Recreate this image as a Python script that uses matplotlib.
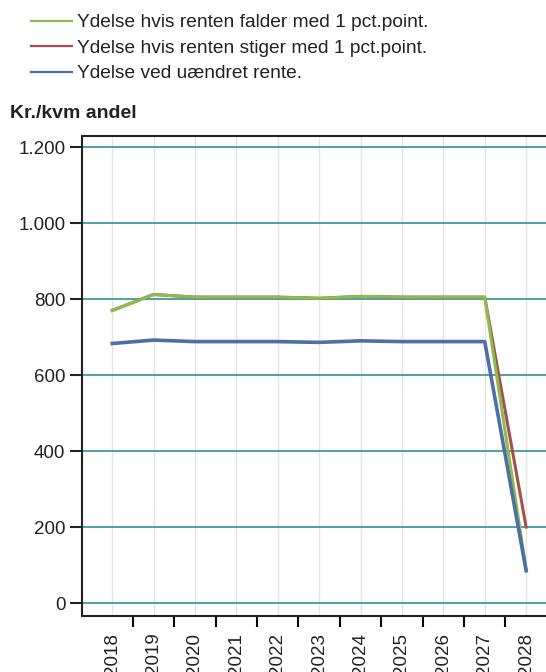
import matplotlib.pyplot as plt
from matplotlib.ticker import FuncFormatter, FixedLocator

plt.rcParams['font.family'] = ['Liberation Sans', 'DejaVu Sans']

years = [2018, 2019, 2020, 2021, 2022, 2023, 2024, 2025, 2026, 2027, 2028]
falder = [770, 812, 805, 805, 805, 802, 807, 805, 805, 805, 88]
stiger = [770, 812, 805, 805, 805, 802, 807, 805, 805, 805, 200]
uaendret = [683, 692, 688, 688, 688, 686, 690, 688, 688, 688, 85]

labels = ['Ydelse hvis renten falder med 1 pct.point.',
          'Ydelse hvis renten stiger med 1 pct.point.',
          'Ydelse ved uændret rente.']
colors = ['#8cbb4e', '#a5504c', '#4d6fa6']

fig = plt.figure(figsize=(5.46, 6.72), dpi=100)
ax = fig.add_axes([82 / 546, 56 / 672, 1 - 82 / 546, 480 / 672])

# draw order: red under green, blue on top
l_red, = ax.plot(years, stiger, color=colors[1], lw=2.2, zorder=3)
l_green, = ax.plot(years, falder, color=colors[0], lw=2.2, zorder=4)
l_blue, = ax.plot(years, uaendret, color=colors[2], lw=2.6, zorder=5)

ax.set_xlim(2017.27, 2028.48)
ax.set_ylim(-34, 1229)

ax.yaxis.set_major_locator(FixedLocator([0, 200, 400, 600, 800, 1000, 1200]))
ax.yaxis.set_major_formatter(FuncFormatter(lambda v, p: f'{int(v):,}'.replace(',', '.')))
ax.grid(axis='y', color='#3f9a9c', lw=1.3, zorder=1)

# year labels centred, ticks at the boundaries
ax.set_xticks(years)
ax.set_xticklabels([str(y) for y in years], rotation=90)
ax.tick_params(axis='x', length=0, pad=12)
for y in years:
    ax.axvline(y, color='#e4e4e4', lw=1, zorder=0)
ax.set_xticks([y + 0.5 for y in years[:-1]], minor=True)
ax.tick_params(axis='x', which='minor', length=8, width=1.5, direction='out')
ax.tick_params(axis='y', length=9, width=1.5, direction='out', pad=3)
ax.tick_params(labelsize=13.5, colors='#222222')

for side in ['left', 'bottom', 'top']:
    ax.spines[side].set_linewidth(1.5)
    ax.spines[side].set_color('#222222')
ax.spines['right'].set_visible(False)

fig.text(10 / 546, 1 - 113 / 672, 'Kr./kvm andel', fontsize=14, fontweight='bold',
         va='center', ha='left', color='#222222')

leg = fig.legend([l_green, l_red, l_blue], labels, loc='upper left',
                 bbox_to_anchor=(31 / 546, 1 - 14 / 672), frameon=False,
                 fontsize=13.8, handlelength=2.15, handletextpad=0.27,
                 labelspacing=0.42, borderaxespad=0, borderpad=0)
for h in leg.get_lines():
    h.set_linewidth(1.6)
for t in leg.get_texts():
    t.set_color('#222222')

fig.savefig('out.png', dpi=100)
